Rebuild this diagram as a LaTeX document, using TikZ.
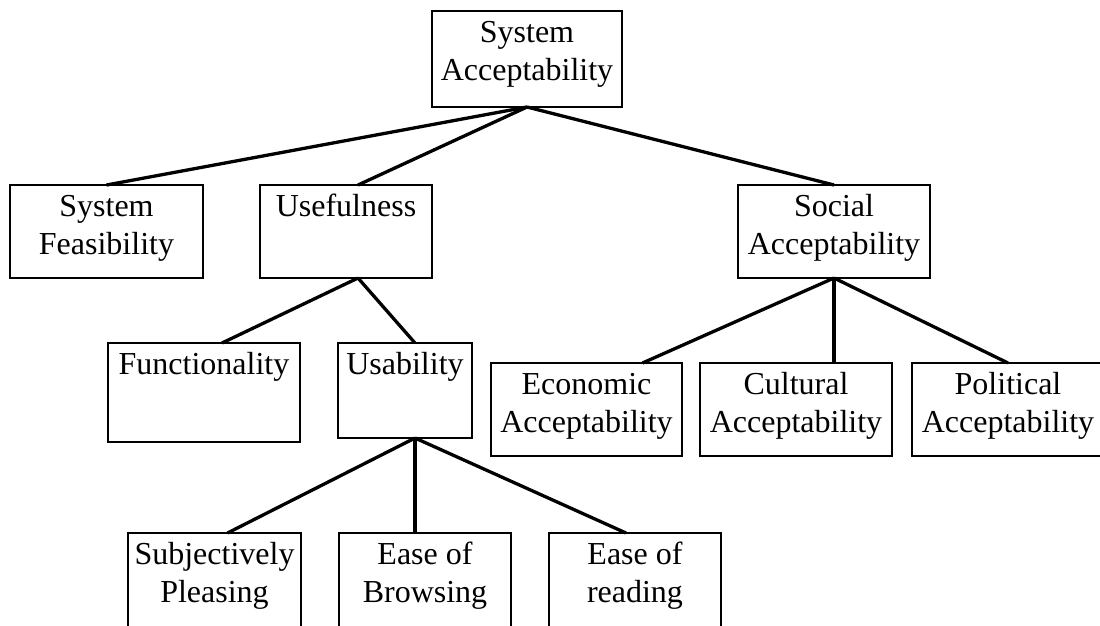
\documentclass[tikz,border=0pt]{standalone}
\usepackage{fontspec}
\setmainfont{Liberation Serif}
\usetikzlibrary{calc}
\tikzset{
  box/.style={draw, line width=1.9pt, inner sep=0pt, outer sep=0pt, anchor=north west},
  lbl/.style={font=\fontsize{32}{38}\selectfont, align=center, inner sep=0pt, outer sep=0pt, anchor=north},
  link/.style={line width=3.3pt},
}
\newcommand\mybox[6]{%
  \node[box, minimum width={#4-#2}, minimum height={#5-#3}] (#1) at (#2,#3) {};
  \node[lbl] (#1t) at ([yshift=-4.4pt]#1.north) {#6};
}
\begin{document}
\begin{tikzpicture}[x=1pt,y=-1pt]
\useasboundingbox (0,0) rectangle (1100,625);
\fill[white] (0,0) rectangle (1100,625);
\clip (0,0) rectangle (1100,625);
\mybox{sa}{432}{11}{622}{107}{\strut System\\\strut Acceptability}
\mybox{sf}{10}{185}{203}{278}{\strut System\\\strut Feasibility}
\mybox{use}{260}{185}{432}{278}{\strut Usefulness}
\mybox{soc}{738}{185}{930}{278}{\strut Social\\\strut Acceptability}
\mybox{fun}{108}{343}{300}{442}{\strut Functionality}
\mybox{usa}{338}{343}{472}{438}{\strut Usability}
\mybox{eco}{491}{363}{682}{456}{\strut Economic\\\strut Acceptability}
\mybox{cul}{700}{363}{892}{456}{\strut Cultural\\\strut Acceptability}
\mybox{pol}{912}{363}{1104}{456}{\strut Political\\\strut Acceptability}
\mybox{subj}{128}{533}{301}{632}{\strut Subjectively\\\strut Pleasing}
\mybox{eob}{339}{533}{511}{632}{\strut Ease of\\\strut Browsing}
\mybox{eor}{549}{533}{721}{632}{\strut Ease of\\\strut reading}
\draw[link] (sa.south) -- (sf.north);
\draw[link] (sa.south) -- ([xshift=12pt]use.north);
\draw[link] (sa.south) -- (soc.north);
\draw[link] ([xshift=12pt]use.south) -- ([xshift=18pt]fun.north);
\draw[link] ([xshift=12pt]use.south) -- ([xshift=10pt]usa.north);
\draw[link] (soc.south) -- ([xshift=56pt]eco.north);
\draw[link] (soc.south) -- ([xshift=38pt]cul.north);
\draw[link] (soc.south) -- (pol.north);
\draw[link] ([xshift=10pt]usa.south) -- ([xshift=13pt]subj.north);
\draw[link] ([xshift=10pt]usa.south) -- ([xshift=-10pt]eob.north);
\draw[link] ([xshift=10pt]usa.south) -- ([xshift=-9pt]eor.north);
\end{tikzpicture}
\end{document}
